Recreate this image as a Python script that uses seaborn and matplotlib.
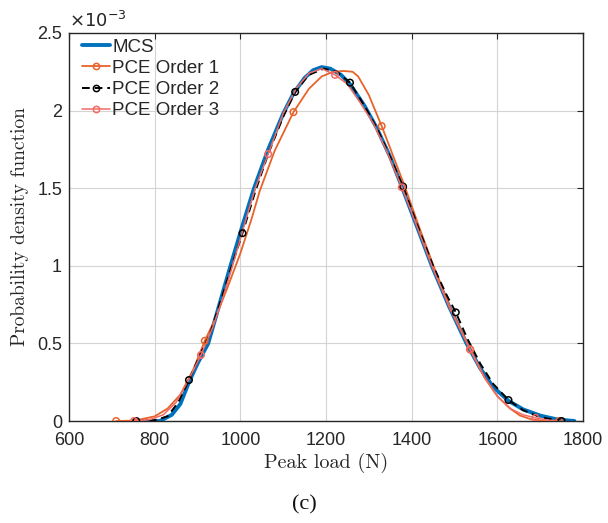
import matplotlib
matplotlib.use("Agg")
import matplotlib.pyplot as plt
import seaborn as sns
from matplotlib.lines import Line2D

# ---------------- data (density values in units of 1e-3) ----------------
mcs_x = [780, 812, 840, 860, 880, 900, 925, 951, 977, 1004, 1032, 1065, 1100, 1124,
         1150, 1170, 1190, 1210, 1235, 1256, 1290, 1318, 1350, 1377, 1410, 1447,
         1487, 1528, 1560, 1590, 1626, 1660, 1700, 1740, 1780]
mcs_y = [0.0, 0.0, 0.04, 0.11, 0.25, 0.37, 0.50, 0.75, 1.00, 1.25, 1.50, 1.75, 1.98, 2.11,
         2.21, 2.26, 2.28, 2.27, 2.23, 2.17, 2.03, 1.89, 1.70, 1.51, 1.27, 1.00,
         0.74, 0.50, 0.34, 0.22, 0.13, 0.075, 0.035, 0.01, 0.0]

o1_x = [710, 740, 766, 800, 830, 860, 890, 917, 940, 970, 1000, 1026, 1045, 1080, 1124,
        1160, 1190, 1217, 1240, 1262, 1275, 1300, 1330, 1355, 1384, 1420, 1455, 1490,
        1537, 1570, 1600, 1630, 1653, 1680, 1710, 1744]
o1_y = [0.0, 0.002, 0.01, 0.03, 0.08, 0.17, 0.33, 0.517, 0.65, 0.86, 1.08, 1.30, 1.48, 1.74, 1.99,
        2.14, 2.22, 2.25, 2.255, 2.25, 2.22, 2.10, 1.90, 1.72, 1.51, 1.23, 0.97, 0.73,
        0.46, 0.28, 0.16, 0.08, 0.035, 0.01, 0.0, 0.0]
o1_mx = [710, 917, 1124, 1330, 1537, 1744]
o1_my = [0.0, 0.517, 1.99, 1.90, 0.46, 0.0]

o2_x = [757, 800, 830, 855, 880, 905, 930, 955, 980, 1005, 1035, 1065, 1100, 1128, 1160,
        1195, 1225, 1256, 1290, 1320, 1350, 1380, 1415, 1450, 1480, 1503, 1530, 1560,
        1590, 1626, 1660, 1700, 1750]
o2_y = [0.0, 0.005, 0.03, 0.12, 0.264, 0.42, 0.57, 0.78, 1.00, 1.21, 1.48, 1.72, 1.96, 2.12, 2.23,
        2.27, 2.25, 2.18, 2.03, 1.88, 1.70, 1.51, 1.25, 1.00, 0.82, 0.70, 0.53, 0.37,
        0.24, 0.135, 0.07, 0.025, 0.0]
o2_mx = [757, 880, 1005, 1128, 1256, 1380, 1503, 1626, 1750]
o2_my = [0.0, 0.264, 1.21, 2.12, 2.18, 1.51, 0.70, 0.135, 0.0]

o3_x = [752, 790, 820, 850, 880, 908, 935, 960, 985, 1010, 1035, 1065, 1100, 1130, 1160,
        1190, 1221, 1250, 1280, 1310, 1340, 1377, 1410, 1447, 1490, 1536, 1570, 1600,
        1630, 1660, 1689, 1720, 1750]
o3_y = [0.0, 0.01, 0.04, 0.12, 0.27, 0.425, 0.60, 0.80, 1.03, 1.27, 1.50, 1.72, 1.98, 2.14, 2.24,
        2.27, 2.23, 2.17, 2.05, 1.92, 1.75, 1.506, 1.27, 1.00, 0.72, 0.462, 0.28, 0.16,
        0.08, 0.04, 0.02, 0.005, 0.0]
o3_mx = [752, 908, 1065, 1221, 1377, 1536, 1689]
o3_my = [0.0, 0.425, 1.72, 2.23, 1.506, 0.462, 0.02]

x_ticks = [600, 800, 1000, 1200, 1400, 1600, 1800]
y_ticks = [0, 0.5, 1, 1.5, 2, 2.5]
y_tick_labels = ["0", "0.5", "1", "1.5", "2", "2.5"]
legend_labels = ["MCS", "PCE Order 1", "PCE Order 2", "PCE Order 3"]

# ---------------- style ----------------
sns.set_theme(style="whitegrid")
plt.rcParams["font.family"] = ["Liberation Sans", "DejaVu Sans"]

C_MCS = "#0072BD"
C_O1 = "#E8622A"
C_O2 = "#000000"
C_O3 = "#F26A64"
DASH = (0, (4, 2.5))

fig = plt.figure(figsize=(6.08, 5.23), dpi=100)
ax = fig.add_axes([0.1135, 0.195, 0.8454, 0.742])

sns.lineplot(x=mcs_x, y=mcs_y, ax=ax, color=C_MCS, lw=2.8, sort=False, zorder=2)
sns.lineplot(x=o1_x, y=o1_y, ax=ax, color=C_O1, lw=1.3, sort=False, zorder=3)
sns.lineplot(x=o2_x, y=o2_y, ax=ax, color=C_O2, lw=1.4, sort=False, zorder=4, linestyle=DASH)
sns.lineplot(x=o3_x, y=o3_y, ax=ax, color=C_O3, lw=1.1, sort=False, zorder=5)

mk = dict(marker="o", s=22, facecolor="none", linewidth=1.1)
sns.scatterplot(x=o1_mx, y=o1_my, ax=ax, edgecolor=C_O1, zorder=6, **mk)
sns.scatterplot(x=o2_mx, y=o2_my, ax=ax, edgecolor=C_O2, zorder=7, **mk)
sns.scatterplot(x=o3_mx, y=o3_my, ax=ax, edgecolor=C_O3, zorder=8, **mk)

handles = [
    Line2D([], [], color=C_MCS, lw=2.8),
    Line2D([], [], color=C_O1, lw=1.3, marker="o", ms=4.5, mfc="none", mew=1.1),
    Line2D([], [], color=C_O2, lw=1.4, linestyle=DASH, marker="o", ms=4.5, mfc="none", mew=1.1),
    Line2D([], [], color=C_O3, lw=1.1, marker="o", ms=4.5, mfc="none", mew=1.1),
]
ax.legend(handles, legend_labels, loc="upper left", frameon=False, fontsize=13.5,
          handlelength=1.5, handletextpad=0.12, labelspacing=0.22,
          borderaxespad=0.0, bbox_to_anchor=(0.01, 1.005))

ax.set_xlim(600, 1800)
ax.set_ylim(0, 2.5)
ax.set_xticks(x_ticks)
ax.set_xticklabels([str(v) for v in x_ticks])
ax.set_yticks(y_ticks)
ax.set_yticklabels(y_tick_labels)
ax.tick_params(axis="both", direction="in", length=4, width=0.8, colors="#262626",
               labelsize=13, top=True, right=True, labelcolor="#262626")
ax.tick_params(axis="x", pad=8)
ax.tick_params(axis="y", pad=5)
ax.grid(True, color="#D4D4D4", lw=0.8)
ax.set_facecolor("white")
for s in ax.spines.values():
    s.set_color("#262626")
    s.set_linewidth(1.0)

ax.set_xlabel("Peak load (N)", family=["cmr10", "DejaVu Serif"], fontsize=14.5,
              color="#262626", labelpad=3)
ax.set_ylabel("Probability density function", family=["cmr10", "DejaVu Serif"], fontsize=14,
              color="#262626", labelpad=6)

ax.text(0.0, 1.005, r"$\times 10^{-3}$", transform=ax.transAxes, fontsize=13,
        color="#262626", ha="left", va="bottom")

fig.text(0.5, 0.034, "(c)", family=["Liberation Serif"], fontsize=16,
         ha="center", va="center", color="#111111")

fig.savefig("out.png", dpi=100)
